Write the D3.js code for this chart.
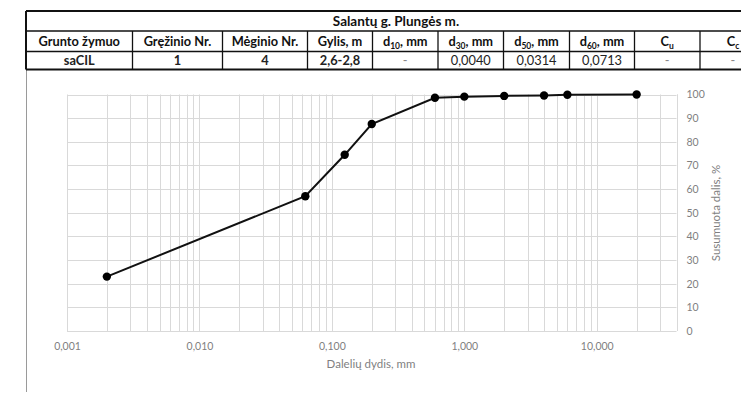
<!DOCTYPE html>
<html><head><meta charset="utf-8">
<script src="https://cdn.jsdelivr.net/npm/d3@7"></script>
<style>
html,body{margin:0;padding:0;background:#fff;}
svg{display:block;font-family:Lato, "Open Sans", sans-serif;}
</style></head>
<body><svg id="c" width="741" height="394"></svg>
<script>
// ---- data ----
const tableTitle = "Salantų g. Plungės m.";
const headers = [
  {t:"Grunto žymuo"},{t:"Gręžinio Nr."},{t:"Mėginio Nr."},{t:"Gylis, m"},
  {t:"d", sub:"10", rest:", mm"},{t:"d", sub:"30", rest:", mm"},{t:"d", sub:"50", rest:", mm"},
  {t:"d", sub:"60", rest:", mm"},{t:"C", sub:"u", rest:""},{t:"C", sub:"c", rest:""}
];
const rowValues = ["saCIL","1","4","2,6-2,8","-","0,0040","0,0314","0,0713","-","-"];
const rowBold = [true,true,true,true,false,false,false,false,false,false];
const colEdges = [26,132.5,222.5,307.5,372.5,438,503.5,569.5,634.5,700,766];

const sizes = [0.002,0.063,0.125,0.2,0.6,1,2,4,6,20];
const passing = [23,57,74.5,87.5,98.6,99.1,99.4,99.6,99.9,100];
const xTicks = [0.001,0.01,0.1,1,10];
const xTickLabels = ["0,001","0,010","0,100","1,000","10,000"];
const yTicks = [0,10,20,30,40,50,60,70,80,90,100];
const xTitle = "Dalelių dydis, mm";
const yTitle = "Susumuota dalis, %";

const svg = d3.select("#c");

// ---- table ----
const tTop=11, tTitleB=31, tHeadB=51.5, tRowB=69.5;
const tg = svg.append("g");
tg.append("line").attr("x1",26.5).attr("x2",26.5).attr("y1",tRowB).attr("y2",392)
  .attr("stroke","#9a9a9a").attr("stroke-width",1);
[[tTop,2],[tTitleB,1.3],[tHeadB,1.3],[tRowB,2]].forEach(([y,w])=>{
  tg.append("line").attr("x1",colEdges[0]).attr("x2",colEdges[colEdges.length-1])
    .attr("y1",y).attr("y2",y).attr("stroke","#111").attr("stroke-width",w);
});
tg.append("line").attr("x1",colEdges[0]).attr("x2",colEdges[0]).attr("y1",tTop).attr("y2",tRowB)
  .attr("stroke","#111").attr("stroke-width",2);
colEdges.slice(1,-1).forEach(x=>{
  tg.append("line").attr("x1",x).attr("x2",x).attr("y1",tTitleB).attr("y2",tRowB)
    .attr("stroke","#111").attr("stroke-width",1.3);
});
tg.append("text").attr("x",(colEdges[0]+colEdges[colEdges.length-1])/2).attr("y",26)
  .attr("text-anchor","middle").attr("font-size",13.5).attr("font-weight","bold").attr("fill","#111")
  .text(tableTitle);
headers.forEach((h,i)=>{
  const cx=(colEdges[i]+colEdges[i+1])/2;
  const t=tg.append("text").attr("x",cx).attr("y",46).attr("text-anchor","middle")
    .attr("font-size",12.8).attr("font-weight","bold").attr("fill","#111");
  t.append("tspan").text(h.t);
  if(h.sub!==undefined){
    t.append("tspan").attr("font-size",8.5).attr("dy",3).text(h.sub);
    if(h.rest) t.append("tspan").attr("dy",-3).text(h.rest);
  }
});
rowValues.forEach((v,i)=>{
  const cx=(colEdges[i]+colEdges[i+1])/2;
  tg.append("text").attr("x",cx).attr("y",65).attr("text-anchor","middle")
    .attr("font-size",12.8).attr("font-weight",rowBold[i]?"bold":"normal")
    .attr("fill", v==="-"?"#888":"#222").text(v);
});

// ---- chart ----
const x = d3.scaleLog().domain([0.001,40]).range([67,676.5]);
const y = d3.scaleLinear().domain([0,100]).range([331,94.5]);
const grid = svg.append("g");
const vlines=[];
[0.001,0.01,0.1,1,10].forEach(d=>{for(let k=1;k<=9;k++){const v=d*k; if(v<=40) vlines.push(v);}});
vlines.push(40);
grid.selectAll("line.v").data(vlines).join("line").attr("class","v")
  .attr("x1",d=>Math.round(x(d))+0.5).attr("x2",d=>Math.round(x(d))+0.5)
  .attr("y1",y(0)).attr("y2",y(100)).attr("stroke","#d9d9d9").attr("stroke-width",1);
grid.selectAll("line.h").data(yTicks).join("line").attr("class","h")
  .attr("x1",x(0.001)).attr("x2",x(40))
  .attr("y1",d=>Math.round(y(d))+0.5).attr("y2",d=>Math.round(y(d))+0.5)
  .attr("stroke","#d9d9d9").attr("stroke-width",1);

const xAxis = d3.axisBottom(x).tickValues(xTicks).tickFormat((d,i)=>xTickLabels[i]).tickSize(0).tickPadding(12);
const gx = svg.append("g").attr("transform",`translate(0,${y(0)})`).call(xAxis);
gx.select(".domain").remove();
gx.selectAll("text").attr("font-size",10.5).attr("fill","#7f7f7f").attr("font-family","Lato, sans-serif");

const yAxis = d3.axisRight(y).tickValues(yTicks).tickSize(0).tickPadding(10);
const gy = svg.append("g").attr("transform",`translate(${x(40)},0)`).call(yAxis);
gy.select(".domain").remove();
gy.selectAll("text").attr("font-size",10.5).attr("fill","#7f7f7f").attr("font-family","Lato, sans-serif");

svg.append("text").attr("x",371).attr("y",368).attr("text-anchor","middle")
  .attr("font-size",11.5).attr("fill","#7f7f7f").text(xTitle);
svg.append("text").attr("transform","translate(720,213) rotate(-90)").attr("text-anchor","middle")
  .attr("font-size",11.5).attr("fill","#7f7f7f").text(yTitle);

const pts = sizes.map((s,i)=>({s,p:passing[i]}));
svg.append("path").datum(pts)
  .attr("d",d3.line().x(d=>x(d.s)).y(d=>y(d.p)))
  .attr("fill","none").attr("stroke","#111").attr("stroke-width",2);
svg.selectAll("circle.m").data(pts).join("circle").attr("class","m")
  .attr("cx",d=>x(d.s)).attr("cy",d=>y(d.p)).attr("r",4.2).attr("fill","#000");
</script></body></html>
